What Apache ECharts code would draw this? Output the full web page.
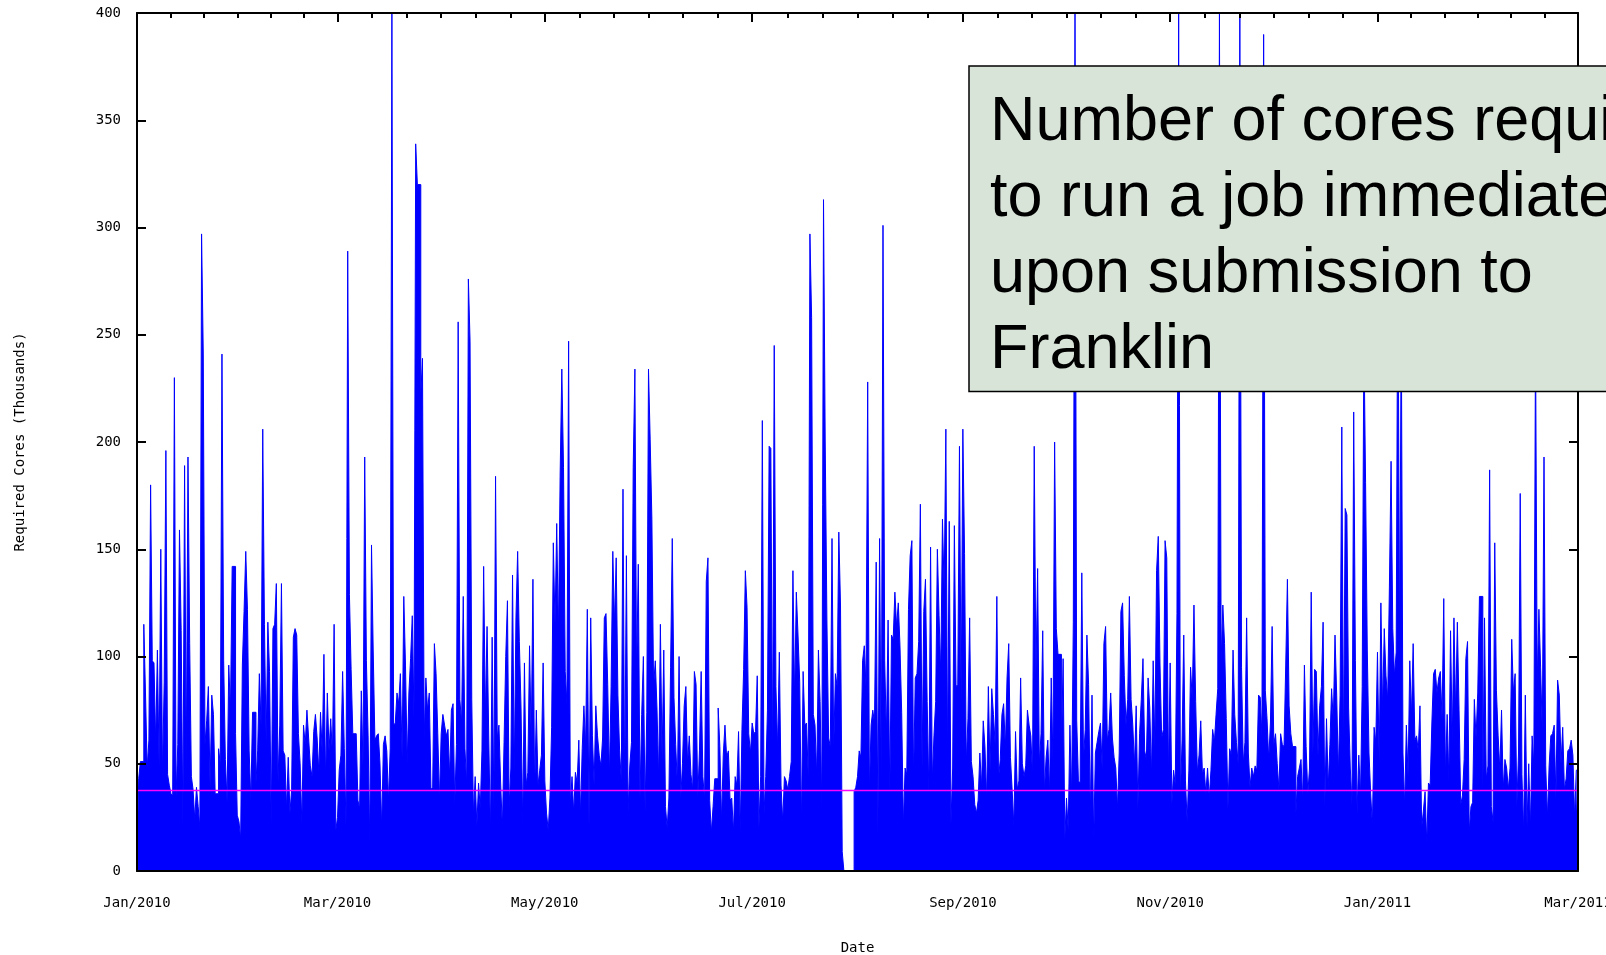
<!DOCTYPE html>
<html>
<head>
<meta charset="utf-8">
<script src="https://cdn.jsdelivr.net/npm/echarts@6/dist/echarts.min.js"></script>
<style>
html,body{margin:0;padding:0;background:#fff;}
#chart{width:1606px;height:955px;}
</style>
</head>
<body>
<div id="chart"></div>
<script>
// Axis ticks: days since 1 Jan 2010 and their labels
const tickDays = [0, 59, 120, 181, 243, 304, 365, 424];
const tickLabels = ['Jan/2010', 'Mar/2010', 'May/2010', 'Jul/2010', 'Sep/2010', 'Nov/2010', 'Jan/2011', 'Mar/2011'];
const stepDays = 0.5; // one sample every 12 hours

// Required cores (thousands), one value per 12 hours from 1 Jan 2010
const cores = [
  4,43,51,51,115,83,48,61,180,98,
  97,60,103,49,150,45,88,196,45,40,
  36,35,230,35,59,159,112,21,189,48,
  193,106,44,38,24,39,30,20,297,241,
  59,70,86,39,82,73,36,36,57,50,
  241,98,52,32,96,75,142,142,64,26,
  23,15,96,121,149,122,56,33,74,74,
  41,56,92,68,206,115,60,116,93,21,
  113,115,134,42,68,134,56,54,29,53,
  27,38,109,113,110,64,50,22,68,59,
  75,62,49,44,65,73,62,46,74,55,
  101,42,83,56,71,54,115,19,25,47,
  54,93,57,21,289,129,94,64,64,64,
  33,29,84,49,193,98,63,12,152,103,
  61,63,64,50,20,59,63,56,33,57,
  400,68,69,83,78,92,53,128,96,50,
  83,99,119,72,339,320,320,222,239,62,
  90,75,83,38,39,106,92,64,33,64,
  73,68,63,66,44,75,78,31,59,256,
  80,69,128,57,40,276,247,80,26,44,
  21,41,29,56,142,72,114,62,17,109,
  30,184,62,68,41,20,60,100,126,30,
  48,138,45,118,149,107,76,21,97,40,
  46,105,61,136,37,75,40,47,54,97,
  42,27,19,34,67,153,115,162,110,184,
  234,188,93,78,247,31,44,27,46,41,
  61,26,57,77,58,122,21,118,63,40,
  77,63,54,49,62,118,120,87,44,86,
  149,115,146,82,56,42,178,37,147,28,
  49,60,188,234,91,143,34,73,100,28,
  74,234,201,164,86,98,76,43,115,52,
  103,30,20,34,95,155,81,59,40,100,
  34,50,77,86,50,63,45,38,93,87,
  34,56,93,44,33,135,146,33,18,30,
  43,43,76,58,23,54,68,53,56,33,
  34,18,44,40,65,18,66,94,140,123,
  64,55,69,64,65,91,20,44,210,27,
  44,75,198,197,49,245,86,57,102,40,
  23,44,42,38,44,51,140,80,130,110,
  88,21,93,68,69,44,297,258,73,68,
  44,103,79,29,313,200,117,62,58,155,
  57,92,86,158,124,9,0,0,0,0,
  0,0,37,39,44,56,53,98,105,86,
  228,37,68,75,69,144,18,155,42,301,
  98,63,117,35,110,108,130,114,125,105,
  74,21,48,45,122,147,154,42,90,92,
  107,171,48,121,136,79,36,151,42,63,
  79,150,119,92,164,131,206,51,163,22,
  48,161,86,87,198,78,206,148,50,71,
  118,51,44,31,27,33,55,39,70,58,
  33,86,47,85,73,59,128,43,52,73,
  78,57,90,106,53,38,21,65,38,42,
  90,50,44,49,75,68,63,44,198,92,
  141,50,64,112,37,53,61,36,90,52,
  200,113,101,101,55,99,15,34,19,68,
  35,116,400,70,42,41,139,52,66,110,
  87,25,82,14,55,60,65,69,47,106,
  114,61,66,83,62,53,48,29,55,121,
  125,91,68,80,128,80,68,49,77,29,
  64,80,99,56,52,90,76,44,98,58,
  140,156,97,62,66,154,146,44,97,31,
  47,40,120,400,34,61,110,42,23,47,
  95,80,124,79,46,54,70,45,48,36,
  48,34,47,66,60,73,85,400,98,124,
  106,71,29,57,54,103,73,60,50,400,
  95,50,60,118,55,39,48,44,49,47,
  82,81,63,390,84,71,52,69,114,59,
  64,50,38,64,59,58,96,136,77,64,
  58,58,27,44,48,52,32,96,58,36,
  48,130,55,94,93,54,77,86,116,30,
  71,39,59,85,70,110,82,45,82,207,
  55,169,166,76,48,31,214,98,27,54,
  35,86,250,181,103,55,36,21,67,60,
  102,50,125,75,113,91,80,132,191,113,
  91,102,300,103,260,55,30,68,44,98,
  72,106,61,63,56,77,20,28,37,13,
  41,40,69,92,94,83,90,93,71,127,
  45,73,42,112,60,118,74,116,75,31,
  35,52,99,107,18,30,32,80,62,83,
  128,128,37,118,43,49,187,30,23,153,
  84,63,47,75,38,52,48,38,48,108,
  83,92,30,55,176,45,18,82,21,50,
  20,63,49,250,88,122,95,64,193,49,
  25,49,63,64,68,34,89,82,50,67,
  38,43,56,57,61,54,25,47
];

const threshold = 37.5; // magenta reference level
const noteLines = ['Number of cores required', 'to run a job immediately', 'upon submission to', 'Franklin'];

// ---- build ----
const endDay = tickDays[tickDays.length - 1];
const points = cores.map((v, i) => [i * stepDays, v]);
points.push([endDay, cores[cores.length - 1]]);

const minorDays = [];
for (let k = 0; k < tickDays.length - 1; k++) {
  const a = tickDays[k], b = tickDays[k + 1];
  for (let j = 1; j < 6; j++) minorDays.push(a + (b - a) * j / 6);
}

const monoFont = 'DejaVu Sans Mono';
const black = '#000';
const lineAxis = {show: true, onZero: false, lineStyle: {color: black, width: 2}};

const chart = echarts.init(document.getElementById('chart'), null, {renderer: 'canvas'});
chart.setOption({
  animation: false,
  backgroundColor: '#fff',
  grid: {left: 137, right: 28, top: 13, bottom: 84, containLabel: false, outerBoundsMode: 'none'},
  xAxis: [
    {
      type: 'value', min: 0, max: endDay, position: 'bottom', z: 5,
      axisLine: lineAxis,
      axisTick: {show: false},
      splitLine: {show: false},
      axisLabel: {
        customValues: tickDays,
        formatter: v => tickLabels[tickDays.indexOf(v)],
        margin: 25, color: black, fontFamily: monoFont, fontSize: 14, hideOverlap: false
      },
      name: 'Date', nameLocation: 'middle', nameGap: 70,
      nameTextStyle: {color: black, fontFamily: monoFont, fontSize: 14}
    },
    {
      type: 'value', min: 0, max: endDay, position: 'top', z: 5,
      axisLine: lineAxis,
      axisTick: {show: true, customValues: tickDays, inside: true, length: 9, lineStyle: {color: black, width: 2}},
      axisLabel: {show: false},
      splitLine: {show: false}
    },
    {
      type: 'value', min: 0, max: endDay, position: 'top', z: 5,
      axisLine: {show: false, onZero: false},
      axisTick: {show: true, customValues: minorDays, inside: true, length: 5, lineStyle: {color: black, width: 2}},
      axisLabel: {show: false},
      splitLine: {show: false}
    }
  ],
  yAxis: [
    {
      type: 'value', min: 0, max: 400, interval: 50, position: 'left', z: 5,
      axisLine: lineAxis,
      axisTick: {show: true, inside: true, length: 9, lineStyle: {color: black, width: 2}},
      axisLabel: {margin: 16, color: black, fontFamily: monoFont, fontSize: 14},
      splitLine: {show: false},
      name: 'Required Cores (Thousands)', nameLocation: 'middle', nameGap: 110, nameRotate: 90,
      nameTextStyle: {color: black, fontFamily: monoFont, fontSize: 14}
    },
    {
      type: 'value', min: 0, max: 400, interval: 50, position: 'right', z: 5,
      axisLine: lineAxis,
      axisTick: {show: true, inside: true, length: 9, lineStyle: {color: black, width: 2}},
      axisLabel: {show: false},
      splitLine: {show: false}
    }
  ],
  series: [
    {
      type: 'line', name: 'cores', step: 'end', data: points,
      xAxisIndex: 0, yAxisIndex: 0,
      symbol: 'none', showSymbol: false, silent: true, z: 2,
      lineStyle: {color: '#0000ff', width: 1},
      areaStyle: {color: '#0000ff', opacity: 1}
    },
    {
      type: 'line', name: 'threshold', data: [[0, threshold], [endDay, threshold]],
      xAxisIndex: 0, yAxisIndex: 0,
      symbol: 'none', showSymbol: false, silent: true, z: 3,
      lineStyle: {color: '#ff00ff', width: 1.5}
    }
  ],
  graphic: [
    {
      type: 'rect', z: 100, silent: true,
      shape: {x: 969, y: 66, width: 700, height: 325.5},
      style: {fill: '#d9e4d9', stroke: '#000', lineWidth: 1.5}
    },
    {
      type: 'text', z: 101, silent: true, x: 990, y: 85,
      style: {
        text: noteLines.join('\n'),
        font: '63px "Liberation Sans", Arial, sans-serif',
        fill: '#000', lineHeight: 76, verticalAlign: 'top', align: 'left'
      }
    }
  ]
});
</script>
</body>
</html>
